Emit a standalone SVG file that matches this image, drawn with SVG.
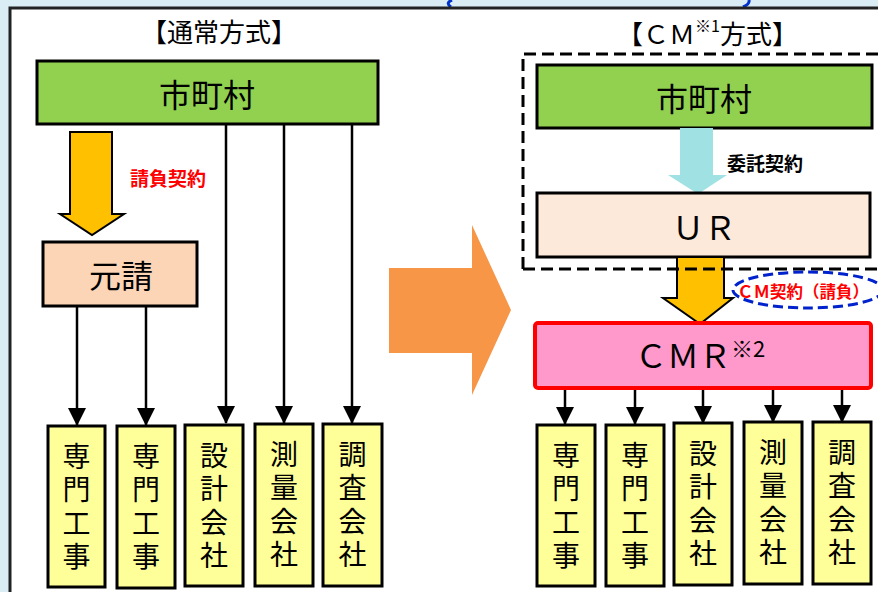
<svg xmlns="http://www.w3.org/2000/svg" width="878" height="592" viewBox="0 0 878 592">
<style>
text{font-family:"Noto Sans CJK JP","Noto Sans",sans-serif;fill:#000}
.box{stroke:#000;stroke-width:3}
.green{fill:#92D050}
.yel{fill:#FFFF99}
.lbl{font-size:32px;text-anchor:middle;dominant-baseline:central}
.v{font-size:28px;writing-mode:vertical-rl;letter-spacing:5.5px}
.conn{stroke:#000;stroke-width:2.5;fill:none;marker-end:url(#ah)}
.title{font-size:26px}
.red{fill:#FF0000;font-weight:bold}
</style>
<defs>
<marker id="ah" markerUnits="userSpaceOnUse" markerWidth="18" markerHeight="18" viewBox="0 0 18 18" refX="17" refY="9" orient="auto">
<path d="M0,0 L18,9 L0,18 Z" fill="#000"/>
</marker>
</defs>
<rect x="0" y="0" width="878" height="592" fill="#DAEDF4"/>
<path d="M452,0 Q445,3 451,7" stroke="#0033CC" stroke-width="3" fill="none"/>
<path d="M749,0 Q750,4 743,7" stroke="#0033CC" stroke-width="3" fill="none"/>
<rect x="10" y="8" width="900" height="600" fill="#fff" stroke="#222" stroke-width="3"/>

<text class="title" x="219" y="30" text-anchor="middle" dominant-baseline="central">【通常方式】</text>
<text class="title" x="617" y="32" dominant-baseline="central">【ＣＭ<tspan font-size="16" dy="-7">※1</tspan><tspan dy="7">方式】</tspan></text>

<!-- orange transition arrow -->
<polygon points="389,268 472,268 472,225 511,310 472,395 472,353 389,353" fill="#F79646"/>

<!-- Left: normal method -->
<g id="left-shichoson">
<rect class="box green" x="37" y="61" width="341" height="63"/>
<text class="lbl" x="207" y="93">市町村</text>
</g>
<g id="left-arrow-ukeoi">
<polygon points="70,132 112,132 112,214 124,214 92,235 60,214 70,214" fill="#FFC000" stroke="#000" stroke-width="2"/>
<text class="red" x="168" y="177" font-size="19" text-anchor="middle" dominant-baseline="central">請負契約</text>
</g>
<g id="motouke">
<rect class="box" x="43" y="242" width="154" height="64" fill="#FBD5B5"/>
<text class="lbl" x="121" y="274">元請</text>
</g>

<g id="connectors">
<line class="conn" x1="77" y1="306" x2="77" y2="425"/>
<line class="conn" x1="146" y1="306" x2="146" y2="425"/>
<line class="conn" x1="226" y1="124" x2="226" y2="423"/>
<line class="conn" x1="284" y1="124" x2="284" y2="423"/>
<line class="conn" x1="352" y1="124" x2="352" y2="423"/>
<line class="conn" x1="565" y1="389" x2="565" y2="424"/>
<line class="conn" x1="635" y1="389" x2="635" y2="424"/>
<line class="conn" x1="703" y1="389" x2="703" y2="423"/>
<line class="conn" x1="773" y1="389" x2="773" y2="422"/>
<line class="conn" x1="842" y1="389" x2="842" y2="422"/>
</g>

<g id="left-senmon1">
<rect class="box yel" x="48" y="426" width="57" height="161"/>
<text class="v" x="76.5" y="442">専門工事</text>
</g>
<g id="left-senmon2">
<rect class="box yel" x="117" y="426" width="58" height="162"/>
<text class="v" x="146" y="442">専門工事</text>
</g>
<g id="left-sekkei">
<rect class="box yel" x="185" y="425" width="58" height="161"/>
<text class="v" x="214" y="441">設計会社</text>
</g>
<g id="left-sokuryo">
<rect class="box yel" x="255" y="424" width="58" height="162"/>
<text class="v" x="284" y="440">測量会社</text>
</g>
<g id="left-chosa">
<rect class="box yel" x="323" y="424" width="59" height="162"/>
<text class="v" x="352.5" y="440">調査会社</text>
</g>

<!-- Right: CM method -->
<g id="right-shichoson">
<rect class="box green" x="537" y="65" width="335" height="63"/>
<text class="lbl" x="704" y="97">市町村</text>
</g>
<g id="arrow-itaku">
<polygon points="680,128 713,128 713,175 727,175 698,194 668,175 680,175" fill="#A0E2E3"/>
<text x="765" y="162" font-size="19" font-weight="bold" text-anchor="middle" dominant-baseline="central">委託契約</text>
</g>
<g id="ur">
<rect class="box" x="537" y="193" width="333" height="64" fill="#FDE9D9"/>
<text class="lbl" x="704" y="226" font-size="30">ＵＲ</text>
</g>
<g id="arrow-cm">
<polygon points="677,257 724,257 724,298 733,298 700,324 663,298 677,298" fill="#FFC000" stroke="#000" stroke-width="2"/>
</g>
<g id="cm-boundary">
<path d="M523,269 L523,54 L890,54 M523,269 L890,269" fill="none" stroke="#000" stroke-width="3" stroke-dasharray="12 6"/>
</g>
<g id="cm-contract-label">
<ellipse cx="808" cy="290" rx="75" ry="18" fill="none" stroke="#0022CC" stroke-width="3" stroke-dasharray="10 5"/>
<text class="red" x="737" y="291" font-size="16.5" dominant-baseline="central">ＣＭ契約（請負）</text>
</g>
<g id="cmr">
<rect x="535" y="323" width="336" height="65" rx="3" fill="#FF99CC" stroke="#FF0000" stroke-width="4"/>
<text x="635" y="368" font-size="32">ＣＭＲ<tspan font-size="22" dy="-11">※2</tspan></text>
</g>

<g id="right-senmon1">
<rect class="box yel" x="537" y="425" width="58" height="161"/>
<text class="v" x="566" y="441">専門工事</text>
</g>
<g id="right-senmon2">
<rect class="box yel" x="606" y="425" width="58" height="161"/>
<text class="v" x="635" y="441">専門工事</text>
</g>
<g id="right-sekkei">
<rect class="box yel" x="674" y="423" width="58" height="162"/>
<text class="v" x="703" y="439">設計会社</text>
</g>
<g id="right-sokuryo">
<rect class="box yel" x="744" y="422" width="58" height="162"/>
<text class="v" x="773" y="438">測量会社</text>
</g>
<g id="right-chosa">
<rect class="box yel" x="813" y="422" width="58" height="162"/>
<text class="v" x="842" y="438">調査会社</text>
</g>
</svg>
